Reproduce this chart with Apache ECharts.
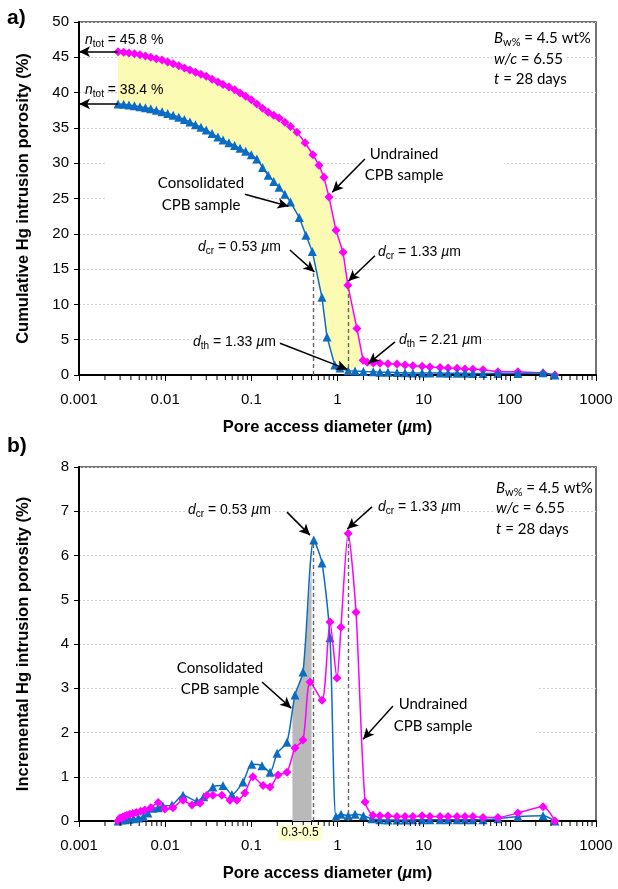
<!DOCTYPE html>
<html>
<head>
<meta charset="utf-8">
<script src="https://cdn.jsdelivr.net/npm/echarts@6/dist/echarts.min.js"></script>
<style>
  html, body { margin: 0; padding: 0; background: #fff; }
  #chart { width: 618px; height: 889px; }
</style>
</head>
<body>
<div id="chart"></div>
<script>
// tick labels on both log x axes
const xTickLabels = ['0.001', '0.01', '0.1', '1', '10', '100', '1000'];
const minorMultipliers = [2, 3, 4, 5, 6, 7, 8, 9];

// a) cumulative intrusion, undrained sample (diamonds)
const cumDiamU = [0.00284, 0.0033, 0.0038, 0.0044, 0.0051, 0.0059, 0.0068, 0.0079, 0.0092, 0.0107,
  0.0124, 0.0144, 0.0167, 0.0194, 0.0225, 0.026, 0.030, 0.035, 0.041, 0.047,
  0.055, 0.064, 0.074, 0.086, 0.10, 0.116, 0.135, 0.157, 0.182, 0.21,
  0.245, 0.285, 0.339, 0.42, 0.519, 0.61, 0.697, 0.797, 0.96, 1.16,
  1.32, 1.68, 1.98, 2.21, 2.6, 3.11, 3.85, 4.9, 6.07, 7.5,
  9.6, 11.8, 15.5, 19.2, 24.4, 30.2, 37.3, 48.8, 72.8, 124, 243, 334];
const cumValU = [45.8, 45.7, 45.6, 45.5, 45.35, 45.2, 45.0, 44.8, 44.6, 44.35,
  44.1, 43.8, 43.5, 43.2, 42.9, 42.6, 42.3, 41.9, 41.5, 41.15,
  40.8, 40.4, 39.95, 39.5, 39.0, 38.4, 37.8, 37.2, 36.8, 36.4,
  35.8, 35.2, 34.4, 32.9, 31.2, 29.7, 28.0, 25.2, 20.5, 17.4,
  12.7, 6.6, 2.1, 1.8, 1.7, 1.65, 1.6, 1.55, 1.4, 1.3,
  1.25, 1.15, 1.05, 1.0, 0.95, 0.85, 0.8, 0.75, 0.45, 0.45, 0.3, 0];

// a) cumulative intrusion, consolidated sample (triangles)
const cumDiamC = [0.00284, 0.0033, 0.0038, 0.0044, 0.0051, 0.0059, 0.0068, 0.0079, 0.0092, 0.0107,
  0.0124, 0.0144, 0.0167, 0.0194, 0.0225, 0.026, 0.030, 0.035, 0.041, 0.047,
  0.055, 0.064, 0.074, 0.086, 0.10, 0.116, 0.135, 0.157, 0.182, 0.21,
  0.245, 0.285, 0.36, 0.43, 0.51, 0.66, 0.755, 0.93, 1.07, 1.33,
  1.6, 2.0, 2.6, 3.11, 3.85, 4.9, 6.07, 7.5, 9.6, 11.8,
  15.5, 19.2, 24.4, 30.2, 37.3, 48.8, 72.8, 124, 243, 334];
const cumValC = [38.4, 38.35, 38.25, 38.15, 38.0, 37.85, 37.7, 37.5, 37.3, 37.05,
  36.8, 36.5, 36.2, 35.85, 35.45, 35.1, 34.7, 34.2, 33.7, 33.3,
  32.9, 32.5, 32.1, 31.7, 31.2, 30.6, 29.4, 28.3, 27.4, 26.6,
  25.6, 24.5, 22.3, 19.8, 17.5, 11.0, 5.4, 1.4, 1.0, 0.6,
  0.55, 0.5, 0.45, 0.4, 0.38, 0.35, 0.33, 0.3, 0.3, 0.28,
  0.27, 0.26, 0.25, 0.24, 0.23, 0.22, 0.2, 0.2, 0.33, 0];

// b) incremental intrusion, undrained sample
const incDiamU = [0.00284, 0.00299, 0.0032, 0.0034, 0.0036, 0.0039, 0.0042, 0.0046, 0.0052, 0.0058,
  0.0068, 0.0083, 0.0099, 0.0123, 0.0161, 0.0205, 0.0254, 0.0306, 0.0358, 0.0455,
  0.0565, 0.068, 0.084, 0.104, 0.137, 0.165, 0.204, 0.259, 0.321, 0.398,
  0.48, 0.661, 0.818, 0.986, 1.097, 1.33, 1.64, 2.09, 2.58, 3.1,
  3.85, 4.9, 6.07, 7.5, 9.6, 11.8, 15.5, 19.2, 24.4, 30.2,
  37.3, 48.8, 72.8, 124, 243, 334];
const incValU = [0, 0.07, 0.09, 0.11, 0.13, 0.15, 0.17, 0.19, 0.22, 0.25,
  0.3, 0.42, 0.27, 0.3, 0.47, 0.36, 0.4, 0.58, 0.58, 0.58,
  0.47, 0.47, 0.63, 1.0, 0.8, 0.77, 1.04, 1.1, 1.65, 1.83,
  3.14, 2.73, 4.5, 3.23, 4.38, 6.5, 4.72, 0.43, 0.13, 0.12,
  0.12, 0.1, 0.1, 0.1, 0.12, 0.1, 0.1, 0.1, 0.1, 0.1,
  0.1, 0.08, 0.08, 0.18, 0.32, 0];

// b) incremental intrusion, consolidated sample
const incDiamC = [0.00284, 0.0031, 0.0034, 0.0038, 0.0043, 0.0049, 0.0056, 0.0063, 0.0072, 0.0083,
  0.0094, 0.012, 0.0161, 0.0233, 0.028, 0.0358, 0.0469, 0.0595, 0.080, 0.101,
  0.133, 0.165, 0.199, 0.259, 0.321, 0.398, 0.53, 0.661, 0.818, 0.96,
  1.1, 1.33, 1.6, 2.0, 2.5, 3.1, 3.85, 4.9, 6.07, 7.5,
  9.6, 11.8, 15.5, 19.2, 24.4, 30.2, 37.3, 48.8, 72.8, 124, 243, 334];
const incValC = [0, 0.02, 0.03, 0.04, 0.05, 0.07, 0.1, 0.18, 0.29, 0.3,
  0.34, 0.36, 0.58, 0.45, 0.55, 0.77, 0.8, 0.6, 0.88, 1.28,
  1.25, 1.1, 1.53, 1.78, 2.85, 3.37, 6.35, 5.83, 4.14, 0.1,
  0.15, 0.12, 0.15, 0.12, 0.05, 0.03, 0.02, 0.02, 0.02, 0.03,
  0.03, 0.03, 0.03, 0.03, 0.03, 0.03, 0.03, 0.03, 0.05, 0.1, 0.12, 0];

// annotation arrows and dashed guides, in data coordinates
const topArrows = [
  [[0.00284, 45.8], [0.001, 45.8]],
  [[0.00284, 38.4], [0.001, 38.4]],
  [[2.08, 30.6], [0.87, 25.9]],
  [[0.084, 25.6], [0.27, 23.9]],
  [[0.28, 17.7], [0.54, 14.6]],
  [[2.72, 16.9], [1.34, 13.3]],
  [[0.215, 4.5], [1.3, 0.8]],
  [[4.65, 4.7], [2.28, 1.6]]
];
const topDashed = [[[0.53, 0], [0.53, 14.4]], [[1.33, 0], [1.33, 12.5]]];
const botArrows = [
  [[0.259, 6.98], [0.48, 6.46]],
  [[2.51, 7.10], [1.3, 6.6]],
  [[0.133, 3.14], [0.29, 2.55]],
  [[4.41, 2.6], [1.98, 1.85]]
];
const botDashed = [[[0.53, 0], [0.53, 6.35]], [[1.33, 0], [1.33, 6.5]]];
const shadeRange = [0.3, 0.5];

const BLUE = '#0b6cc4';
const MAGENTA = '#ff00ff';
const ARIAL = 'Liberation Sans';
const SANS = 'Lato';

const zip = (xs, ys) => xs.map((x, i) => [x, ys[i]]);

function marks(dashed, arrows) {
  const data = [];
  dashed.forEach(d => data.push([
    { coord: d[0], symbol: 'none', lineStyle: { type: [4, 3], color: '#666', width: 1.4 } },
    { coord: d[1], symbol: 'none' }
  ]));
  arrows.forEach(a => data.push([
    { coord: a[0], symbol: 'none' },
    { coord: a[1], symbol: 'arrow', symbolSize: [8, 11] }
  ]));
  return {
    silent: true, animation: false, label: { show: false },
    lineStyle: { color: '#000', width: 1.5, type: 'solid' },
    emphasis: { disabled: true },
    data
  };
}

function xAxisFor(gridIndex) {
  return {
    type: 'log', logBase: 10, min: 0.001, max: 1000, splitNumber: 6, gridIndex,
    name: 'Pore access diameter ({u|\u00b5}m)', nameLocation: 'middle', nameGap: 44,
    nameTextStyle: {
      fontFamily: ARIAL, fontWeight: 'bold', fontSize: 16.5, color: '#000', padding: [0, 20, 0, 0],
      rich: { u: { fontFamily: ARIAL, fontWeight: 'bold', fontStyle: 'italic', fontSize: 16.5, color: '#000' } }
    },
    axisLine: { onZero: false, lineStyle: { color: '#000', width: 2 } },
    axisTick: { length: 6, lineStyle: { color: '#000', width: 1 } },
    axisLabel: {
      fontFamily: ARIAL, fontSize: 15, color: '#000', margin: 17,
      formatter: v => xTickLabels[Math.round(Math.log10(v)) + 3]
    },
    splitLine: { show: false }
  };
}

function yAxisFor(gridIndex, max, interval, name) {
  return {
    type: 'value', min: 0, max, interval, gridIndex,
    name, nameLocation: 'middle', nameGap: 47,
    nameTextStyle: { fontFamily: ARIAL, fontWeight: 'bold', fontSize: 16.5, color: '#000' },
    axisLine: { onZero: false, lineStyle: { color: '#000', width: 2 } },
    axisTick: { length: 5, lineStyle: { color: '#000', width: 1 } },
    axisLabel: { fontFamily: ARIAL, fontSize: 15, color: '#000', margin: 10 },
    splitLine: { lineStyle: { color: '#cfcfcf', type: [2, 2], width: 1 } }
  };
}

function minorTicks(idx) {
  return {
    type: 'custom', xAxisIndex: idx, yAxisIndex: idx, data: [[1, 0]], clip: false, silent: true, z: 5,
    renderItem: (params, api) => {
      const children = [];
      for (let e = -3; e < 3; e++) {
        minorMultipliers.forEach(m => {
          const p = api.coord([m * Math.pow(10, e), 0]);
          children.push({ type: 'line', shape: { x1: p[0], y1: p[1] + 1, x2: p[0], y2: p[1] + 5 },
            style: { stroke: '#000', lineWidth: 1 } });
        });
      }
      return { type: 'group', children };
    }
  };
}

const yellowFill = {
  type: 'custom', xAxisIndex: 0, yAxisIndex: 0, data: [[1, 10]], silent: true, z: 1,
  renderItem: (params, api) => {
    const pts = [];
    cumDiamU.forEach((d, i) => { if (d <= 2.21) pts.push(api.coord([d, cumValU[i]])); });
    for (let i = cumDiamC.length - 1; i >= 0; i--) {
      if (cumDiamC[i] <= 1.33) pts.push(api.coord([cumDiamC[i], cumValC[i]]));
    }
    return { type: 'polygon', shape: { points: pts }, style: { fill: '#fbfbb4' } };
  }
};

function interpC(t) {
  for (let i = 0; i < incDiamC.length - 1; i++) {
    if (incDiamC[i] <= t && t <= incDiamC[i + 1]) {
      const f = (Math.log10(t) - Math.log10(incDiamC[i])) / (Math.log10(incDiamC[i + 1]) - Math.log10(incDiamC[i]));
      return incValC[i] + f * (incValC[i + 1] - incValC[i]);
    }
  }
  return 0;
}

const grayFill = {
  type: 'custom', xAxisIndex: 1, yAxisIndex: 1, data: [[1, 1]], silent: true, z: 1,
  renderItem: (params, api) => {
    const [lo, hi] = shadeRange;
    const pts = [api.coord([lo, 0]), api.coord([lo, interpC(lo)])];
    incDiamC.forEach((d, i) => { if (d > lo && d < hi) pts.push(api.coord([d, incValC[i]])); });
    pts.push(api.coord([hi, interpC(hi)]), api.coord([hi, 0]));
    return { type: 'polygon', shape: { points: pts }, style: { fill: '#b9b9b9' } };
  }
};

function richSet(family, size) {
  return {
    n: { fontFamily: family, fontSize: size, fill: '#000' },
    i: { fontFamily: family, fontSize: size, fontStyle: 'italic', fill: '#000' },
    s: { fontFamily: family, fontSize: Math.round(size * 0.72), fill: '#000', padding: [Math.round(size * 0.55), 0, 0, 0] }
  };
}

function txt(x, y, text, family, size, align, bg) {
  return {
    type: 'text', x, y, z: 100,
    style: {
      text, fontFamily: family, fontSize: size, fill: '#000',
      align: align || 'left', verticalAlign: 'middle',
      rich: richSet(family, size),
      backgroundColor: bg === undefined ? '#fff' : bg, padding: [1, 2]
    }
  };
}

function box(x, y, w, h) {
  return { type: 'rect', z: 1, shape: { x, y, width: w, height: h }, style: { fill: '#fff' } };
}

const dcr053 = '{i|d}{s|cr}{n| = 0.53 }{i|\u00b5}{n|m}';
const dcr133 = '{i|d}{s|cr}{n| = 1.33 }{i|\u00b5}{n|m}';
const dth133 = '{i|d}{s|th}{n| = 1.33 }{i|\u00b5}{n|m}';
const dth221 = '{i|d}{s|th}{n| = 2.21 }{i|\u00b5}{n|m}';

const graphics = [
  { type: 'text', x: 7, y: 18, z: 100, style: { text: 'a)', fontFamily: ARIAL, fontWeight: 'bold', fontSize: 21, fill: '#000', verticalAlign: 'middle' } },
  { type: 'text', x: 7, y: 446, z: 100, style: { text: 'b)', fontFamily: ARIAL, fontWeight: 'bold', fontSize: 21, fill: '#000', verticalAlign: 'middle' } },
  // a) labels
  txt(83, 40, '{i|n}{s|tot}{n| = 45.8 %}', ARIAL, 14, 'left', 'transparent'),
  txt(83, 90, '{i|n}{s|tot}{n| = 38.4 %}', ARIAL, 14, 'left', 'transparent'),
  txt(492, 38, '{i|B}{s|w%}{n| = 4.5 wt%}', SANS, 15),
  txt(492, 59, '{i|w/c}{n| = 6.55}', SANS, 15),
  txt(492, 79, '{i|t}{n| = 28 days}', SANS, 15),
  box(362, 142, 144, 47),
  txt(404, 154, 'Undrained', SANS, 15, 'center'),
  txt(404, 175, 'CPB sample', SANS, 15, 'center'),
  box(106, 158, 146, 58),
  txt(201, 183, 'Consolidated', SANS, 15, 'center'),
  txt(201, 205, 'CPB sample', SANS, 15, 'center'),
  txt(196, 247, dcr053, ARIAL, 14),
  txt(376, 252, dcr133, ARIAL, 14),
  txt(191, 342, dth133, ARIAL, 14),
  txt(397, 340, dth221, ARIAL, 14),
  // b) labels
  txt(494, 488, '{i|B}{s|w%}{n| = 4.5 wt%}', SANS, 15),
  txt(494, 508, '{i|w/c}{n| = 6.55}', SANS, 15),
  txt(494, 529, '{i|t}{n| = 28 days}', SANS, 15),
  txt(186, 510, dcr053, ARIAL, 14),
  txt(376, 507, dcr133, ARIAL, 14),
  box(176, 655, 92, 46),
  txt(220, 668, 'Consolidated', SANS, 15, 'center'),
  txt(220, 689, 'CPB sample', SANS, 15, 'center'),
  box(368, 684, 170, 64),
  txt(433, 704, 'Undrained', SANS, 15, 'center'),
  txt(433, 726, 'CPB sample', SANS, 15, 'center'),
  { type: 'text', x: 300, y: 833, z: 100,
    style: { text: '0.3-0.5', fontFamily: ARIAL, fontSize: 12, fill: '#000', align: 'center', verticalAlign: 'middle',
      backgroundColor: '#ffffcc', padding: [2, 3] } }
];

const chart = echarts.init(document.getElementById('chart'));
chart.setOption({
  animation: false,
  backgroundColor: '#fff',
  grid: [
    { left: 79, top: 22, width: 517, height: 353, show: true, borderColor: '#444', borderWidth: 1.5 },
    { left: 79, top: 467, width: 517, height: 354, show: true, borderColor: '#444', borderWidth: 1.5 }
  ],
  xAxis: [xAxisFor(0), xAxisFor(1)],
  yAxis: [
    yAxisFor(0, 50, 5, 'Cumulative Hg intrusion porosity (%)'),
    yAxisFor(1, 8, 1, 'Incremental Hg intrusion porosity (%)')
  ],
  series: [
    yellowFill,
    {
      type: 'line', name: 'Undrained CPB sample', xAxisIndex: 0, yAxisIndex: 0,
      data: zip(cumDiamU, cumValU), symbol: 'diamond', symbolSize: 9, z: 3,
      lineStyle: { color: MAGENTA, width: 1.5 }, itemStyle: { color: MAGENTA },
      markLine: marks(topDashed, topArrows)
    },
    {
      type: 'line', name: 'Consolidated CPB sample', xAxisIndex: 0, yAxisIndex: 0,
      data: zip(cumDiamC, cumValC), symbol: 'triangle', symbolSize: 9, z: 4,
      lineStyle: { color: BLUE, width: 1.5 }, itemStyle: { color: BLUE }
    },
    minorTicks(0),
    grayFill,
    {
      type: 'line', name: 'Consolidated CPB sample', xAxisIndex: 1, yAxisIndex: 1,
      data: zip(incDiamC, incValC), symbol: 'triangle', symbolSize: 9, z: 3, smooth: 0.25,
      lineStyle: { color: BLUE, width: 1.5 }, itemStyle: { color: BLUE }
    },
    {
      type: 'line', name: 'Undrained CPB sample', xAxisIndex: 1, yAxisIndex: 1,
      data: zip(incDiamU, incValU), symbol: 'diamond', symbolSize: 9, z: 4, smooth: 0.25,
      lineStyle: { color: MAGENTA, width: 1.5 }, itemStyle: { color: MAGENTA },
      markLine: marks(botDashed, botArrows)
    },
    minorTicks(1)
  ],
  graphic: graphics
});
</script>
</body>
</html>
